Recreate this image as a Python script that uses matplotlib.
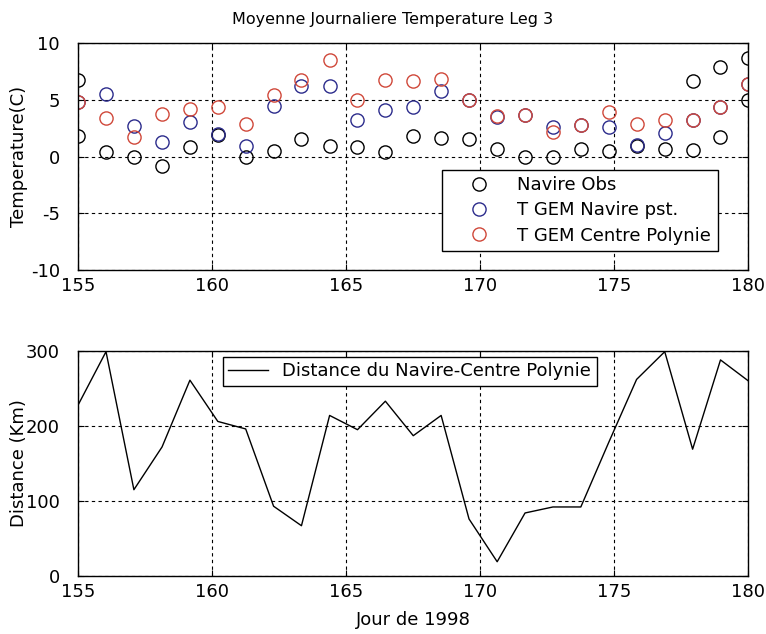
import matplotlib
matplotlib.use("Agg")
import matplotlib.pyplot as plt

plt.rcParams['font.family'] = ['DejaVu Sans']
plt.rcParams['axes.unicode_minus'] = False

jours = [155.0, 156.04, 157.08, 158.13, 159.17, 160.21, 161.25, 162.29, 163.33,
         164.38, 165.42, 166.46, 167.5, 168.54, 169.58, 170.63, 171.67, 172.71,
         173.75, 174.79, 175.83, 176.88, 177.92, 178.96, 180.0]

# temperatures (C)
navire_obs = [1.8, 0.44, 0.0, -0.82, 0.85, 1.91, 0.0, 0.45, 1.53,
              0.9, 0.85, 0.44, 1.8, 1.68, 1.55, 0.7, 0.0, 0.0,
              0.7, 0.45, 0.92, 0.65, 0.6, 1.74, 5.0]
navire_obs_haut = [6.73, None, None, None, None, None, None, None, None,
                   None, None, None, None, None, None, None, None, None,
                   None, None, None, None, 6.67, 7.87, 8.7]
gem_navire = [4.82, 5.55, 2.68, 1.3, 3.06, 1.95, 0.9, 4.5, 6.2,
              6.2, 3.2, 4.14, 4.41, 5.79, 4.95, 3.5, 3.65, 2.62,
              2.8, 2.63, 1.0, 2.1, 3.2, 4.38, 6.38]
gem_centre = [4.82, 3.38, 1.74, 3.78, 4.23, 4.38, 2.88, 5.45, 6.75,
              8.5, 4.97, 6.73, 6.67, 6.82, 4.95, 3.55, 3.65, 2.2,
              2.8, 3.9, 2.88, 3.2, 3.2, 4.38, 6.38]

# distance (km)
distance = [228, 299, 115, 172, 261, 206, 196, 93, 67,
            214, 195, 233, 187, 214, 76, 19, 84, 92,
            92, 178, 262, 299, 169, 288, 260]

fs = 13

fig = plt.figure(figsize=(7.66, 6.34), dpi=100)
ax1 = fig.add_axes([0.102, 0.574, 0.875, 0.358])
ax2 = fig.add_axes([0.102, 0.0915, 0.875, 0.355])

ms = 9.5
ax1.plot(jours, navire_obs, 'o', mfc='none', mec='black', ms=ms, mew=1.0, label='Navire Obs')
ax1.plot(jours, gem_navire, 'o', mfc='none', mec='#2c2c8c', ms=ms, mew=1.0, label='T GEM Navire pst.')
ax1.plot(jours, gem_centre, 'o', mfc='none', mec='#d0483a', ms=ms, mew=1.0, label='T GEM Centre Polynie')
haut = [(j, v) for j, v in zip(jours, navire_obs_haut) if v is not None]
ax1.plot([h[0] for h in haut], [h[1] for h in haut], 'o', mfc='none', mec='black', ms=ms, mew=1.0)

ax1.set_xlim(155, 180)
ax1.set_ylim(-10, 10)
ax1.set_xticks(range(155, 181, 5))
ax1.set_yticks(range(-10, 11, 5))
ax1.set_ylabel('Temperature(C)', fontsize=fs)
ax1.set_title('Moyenne Journaliere Temperature Leg 3', fontsize=11.5, pad=14, x=0.469)
leg1 = ax1.legend(loc='lower right', bbox_to_anchor=(0.954, 0.084), borderaxespad=0,
                  fancybox=False, edgecolor='black', framealpha=1, fontsize=fs,
                  handletextpad=0.4, borderpad=0.35, labelspacing=0.4, handlelength=3.4)
leg1.get_frame().set_linewidth(1.0)

ax2.plot(jours, distance, color='black', lw=1.0, label='Distance du Navire-Centre Polynie')
ax2.set_xlim(155, 180)
ax2.set_ylim(0, 300)
ax2.set_xticks(range(155, 181, 5))
ax2.set_yticks(range(0, 301, 100))
ax2.set_ylabel('Distance (Km)', fontsize=fs)
ax2.set_xlabel('Jour de 1998', fontsize=fs)
ax2.xaxis.set_label_coords(0.5, -0.155)
leg2 = ax2.legend(loc='upper left', bbox_to_anchor=(0.216, 0.973), borderaxespad=0,
                  fancybox=False, edgecolor='black', framealpha=1, fontsize=fs,
                  handlelength=2.2, handletextpad=0.8, borderpad=0.3)
leg2.get_frame().set_linewidth(1.0)

for ax in (ax1, ax2):
    ax.grid(True, color='black', linestyle=(0, (3, 3)), linewidth=0.8)
    ax.tick_params(direction='in', labelsize=fs, length=4, top=True, right=True)
    ax.tick_params(axis='y', pad=13)
    ax.tick_params(axis='x', pad=5)
    ax.yaxis.set_label_coords(-0.075, 0.5)
    for s in ax.spines.values():
        s.set_linewidth(1.0)

fig.savefig('out.png', dpi=100)
